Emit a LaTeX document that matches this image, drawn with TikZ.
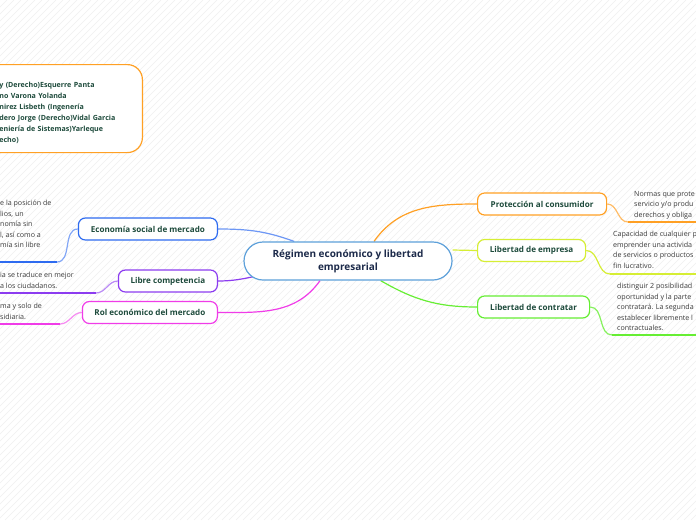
\documentclass[tikz,border=0pt]{standalone}
\usepackage{fontspec}
\setmainfont{Open Sans}
\usepackage{tikz}
\usetikzlibrary{positioning,backgrounds}
\usepackage{xcolor}

\definecolor{hubblue}{HTML}{5DA0DA}
\definecolor{hubtext}{HTML}{1C2A4A}
\definecolor{labelgreen}{HTML}{1E4B3C}
\definecolor{notegray}{HTML}{3A3A3A}
\definecolor{orangeb}{HTML}{FFA024}
\definecolor{limeb}{HTML}{D6EE34}
\definecolor{greenb}{HTML}{66EE33}
\definecolor{blueb}{HTML}{2E6BF0}
\definecolor{purpleb}{HTML}{8C3CF0}
\definecolor{magentab}{HTML}{F03CE8}

\begin{document}
\begin{tikzpicture}[
    x=1pt, y=1pt,
    every node/.style={font=\fontsize{8}{10}\selectfont},
    hub/.style={draw=hubblue, rectangle, rounded corners=19pt, fill=white,
                line width=1.2pt, minimum width=208pt, minimum height=38pt,
                align=center, text=hubtext,
                font=\bfseries\fontsize{10}{13}\selectfont},
    topic/.style={draw, rectangle, rounded corners=7pt, fill=white,
                  line width=1.2pt, minimum height=22pt, inner xsep=0pt,
                  text=labelgreen, font=\bfseries\fontsize{8.1}{10}\selectfont},
    note/.style={anchor=north west, inner sep=0pt, align=left,
                 text=notegray, font=\fontsize{7.1}{10.5}\selectfont},
    link/.style={line width=1.2pt},
    uline/.style={line width=2pt},
    stripe/.style={black!6, line width=0.4pt},
]

\useasboundingbox (0,0) rectangle (696,-520);
\clip (0,0) rectangle (696,-520);

%% Background stripes
\begin{scope}[on background layer]
\fill[white] (0,0) rectangle (696,-520);
\foreach \i in {-520,-513,...,696}
    \draw[stripe] (\i,-520) -- (\i+520,0);
\end{scope}

%% Central topic
\node[hub] (main) at (348,-261) {Régimen económico y libertad\\empresarial};

%% Right branches
\node[topic, draw=orangeb, minimum width=129pt, anchor=west] (prot) at (477,-204) {Protección al consumidor};
\node[topic, draw=limeb,   minimum width=108pt, anchor=west] (emp)  at (477,-250.5) {Libertad de empresa};
\node[topic, draw=greenb,  minimum width=112pt, anchor=west] (cont) at (477,-307) {Libertad de contratar};

%% Left branches
\node[topic, draw=blueb,    minimum width=139pt, anchor=east] (eco)   at (218,-229) {Economía social de mercado};
\node[topic, draw=purpleb,  minimum width=99pt,  anchor=east] (libre) at (218,-281) {Libre competencia};
\node[topic, draw=magentab, minimum width=135pt, anchor=east] (rol)   at (218,-312.5) {Rol económico del mercado};

%% Notes (right)
\coordinate (protU) at (628,-222);
\node[note] (protN) at (634,-191) {Normas que prote\\servicio y/o produ\\derechos y obliga};
\coordinate (empU) at (610,-274);
\node[note] (empN) at (613,-231) {Capacidad de cualquier p\\emprender una activida\\de servicios o productos\\fin lucrativo.};
\coordinate (contU) at (612,-335);
\node[note] (contN) at (617,-283) {distinguir 2 posibilidad\\oportunidad y la parte\\contratará. La segunda\\establecer libremente l\\contractuales.};

%% Notes (left)
\coordinate (ecoU) at (57,-262);
\node[note] (ecoN) at (0,-200) {e la posición de\\lios, un\\nomía sin\\l, así como a\\mía sin libre};
\coordinate (libreU) at (96,-293);
\node[note] (libreN) at (0,-272) {ia se traduce en mejor\\a los ciudadanos.};
\coordinate (rolU) at (60,-324);
\node[note] (rolN) at (0,-303) {ma y solo de\\sidiaria.};

%% Floating topic (team)
\node[draw=orangeb, rectangle, rounded corners=15pt, fill=white, line width=1.2pt,
      anchor=north east, minimum height=88pt, text width=123pt, inner xsep=20pt,
      align=left, text=labelgreen, font=\bfseries\fontsize{7.1}{11}\selectfont]
    (team) at (143,-64)
    {\mbox{}\\[2pt]y (Derecho)Esquerre Panta\\no Varona Yolanda\\nirez Lisbeth (Ingenería\\dero Jorge (Derecho)Vidal Garcia\\eniería de Sistemas)Yarleque\\echo)};

%% Connectors
\begin{scope}[on background layer]
\draw[link, blueb!70]    (eco.east)   to[out=0, in=160] (main.160);
\draw[link, purpleb]     (libre.east) to[out=0, in=190] ([xshift=30pt, yshift=8pt]main.south west);
\draw[link, magentab]    (rol.east)   to[out=0, in=235] (main.215);
\draw[link, orangeb]     (main.37)    to[out=55, in=180] (prot.west);
\draw[link, limeb]       (main.6)     -- (emp.west);
\draw[link, greenb]      (main.-31)   to[out=-30, in=180] (cont.west);
\end{scope}

%% Note connectors and underlines
\draw[link, orangeb!70] (prot.east) to[out=0, in=180] (protU);
\draw[uline, orangeb]   (protU) -- ++(80,0);
\draw[link, limeb]      (emp.east)  to[out=0, in=180] (empU);
\draw[uline, limeb]     (empU) -- ++(90,0);
\draw[link, greenb!80]  (cont.east) to[out=0, in=180] (contU);
\draw[uline, greenb]    (contU) -- ++(90,0);
\draw[link, blueb!60]   (eco.west)   to[out=180, in=0] (ecoU);
\draw[uline, blueb]     (ecoU) -- ++(-70,0);
\draw[link, purpleb!60] (libre.west) to[out=180, in=0] (libreU);
\draw[uline, purpleb]   (libreU) -- ++(-100,0);
\draw[link, magentab!60](rol.west)   to[out=180, in=0] (rolU);
\draw[uline, magentab]  (rolU) -- ++(-70,0);

\end{tikzpicture}
\end{document}
